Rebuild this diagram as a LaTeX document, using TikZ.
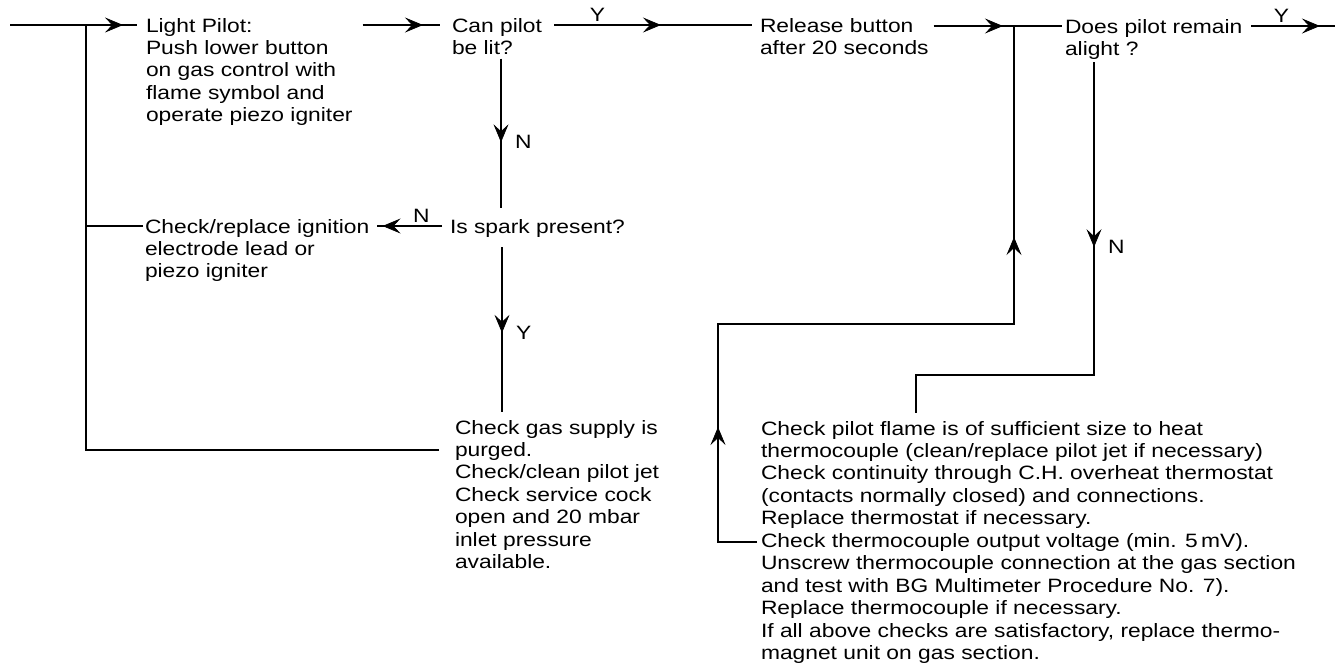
\documentclass[tikz,border=0pt]{standalone}
\usepackage{fontspec}
\setmainfont{Liberation Sans}[FakeStretch=1.18]
\usepackage{tikz}
\usetikzlibrary{arrows.meta, decorations.markings}

\begin{document}
\begin{tikzpicture}[
        x=0.02cm, y=-0.02cm,
        font=\fontsize{11}{12.8}\selectfont,
        % bloques de texto sin marco: se colocan por su esquina superior
        % izquierda; la primera línea queda centrada 7 unidades más abajo.
        bloque/.style={anchor=north west, align=left,
                       inner sep=0pt, outer sep=0pt},
        etiq/.style={inner sep=1.5pt},
        flujo/.style={draw, line width=1.2pt},
        fino/.style={draw, line width=0.7pt},
        % la punta va dentro de la línea, no en su extremo
        conpunta/.style={decoration={markings,
                         mark=at position #1 with {\arrow[line width=0.4pt]{Stealth[length=3.6mm, width=3mm, inset=1.4mm]}}},
                         postaction={decorate}},
        dospuntas/.style 2 args={decoration={markings,
                         mark=at position #1 with {\arrow[line width=0.4pt]{Stealth[length=3.6mm, width=3mm, inset=1.4mm]}},
                         mark=at position #2 with {\arrow[line width=0.4pt]{Stealth[length=3.6mm, width=3mm, inset=1.4mm]}}},
                         postaction={decorate}}
    ]
        \useasboundingbox (0,0) rectangle (1335,667);

        \node[bloque] (lp) at (146,18)  {Light Pilot:\\Push lower button\\on gas control with\\flame symbol and\\operate piezo igniter};
        \node[bloque] (cp) at (452,18)  {Can pilot\\be lit?};
        \node[bloque] (rb) at (760,18)  {Release button\\after 20 seconds};
        \node[bloque] (dp) at (1065,19) {Does pilot remain\\alight ?};
        \node[bloque] (cr) at (145,219) {Check/replace ignition\\electrode lead or\\piezo igniter};
        \node[bloque] (sp) at (450,219) {Is spark present?};
        \node[bloque] (cg) at (455,420) {Check gas supply is\\purged.\\Check/clean pilot jet\\Check service cock\\open and 20 mbar\\inlet pressure\\available.};
        \node[bloque] (cf) at (761,421) {Check pilot flame is of sufficient size to heat\\thermocouple (clean/replace pilot jet if necessary)\\Check continuity through C.H. overheat thermostat\\(contacts normally closed) and connections.\\Replace thermostat if necessary.\\Check thermocouple output voltage (min. 5\,mV).\\Unscrew thermocouple connection at the gas section\\and test with BG Multimeter Procedure No. 7).\\Replace thermocouple if necessary.\\If all above checks are satisfactory, replace thermo-\\magnet unit on gas section.};

        \coordinate (in)  at (10,25);
        \coordinate (out) at (1335,26);
        \coordinate (lb)  at (86,25);
        \coordinate (rj)  at (1014,26);
        \coordinate (b1)  at (718,324);
        \coordinate (b2)  at (1094,375);
        \coordinate (crin)  at ([shift={(-2,7)}]cr.north west);
        \coordinate (cfin)  at ([shift={(-4,121)}]cf.north west);
        \coordinate (dpout) at ([shift={(29,43)}]dp.north west);

        % fila superior
        \draw[flujo, conpunta=0.89] (in) -- ([shift={(-9,7)}]lp.north west);
        \draw[flujo, conpunta=0.78] ([shift={(10,7)}]lp.north east) -- ([shift={(-12,7)}]cp.north west);
        \draw[flujo, conpunta=0.54] ([shift={(12,7)}]cp.north east) -- node[etiq, above, pos=0.22] {Y} ([shift={(-8,7)}]rb.north west);
        \draw[flujo, conpunta=0.54] ([shift={(5,8)}]rb.north east) -- ([shift={(-3,7)}]dp.north west);
        \draw[flujo, conpunta=0.82] ([shift={(9,7)}]dp.north east) -- node[etiq, above, pos=0.36] {Y} (out);

        % rama de la chispa
        \draw[flujo, conpunta=0.56] ([shift={(49,4)}]cp.south west) -- node[etiq, right=6pt, pos=0.56] {N} ([shift={(51,-11)}]sp.north west);
        \draw[flujo, conpunta=0.92] ([shift={(-8,7)}]sp.north west) -- node[etiq, above, pos=0.32] {N} ([shift={(8,7)}]cr.north east);
        \draw[flujo, conpunta=0.52] ([shift={(52,10)}]sp.south west) -- node[etiq, right=6pt, pos=0.52] {Y} ([shift={(47,-8)}]cg.north west);

        % retornos a la izquierda
        \draw[fino] (crin) -- (crin -| lb);
        \draw[fino] ([shift={(-16,30)}]cg.north west) -| (lb);

        % retornos a la derecha
        \draw[fino, dospuntas={0.181}{0.752}] (cfin) -| (b1) -| (rj);
        \draw[flujo, conpunta=0.35] (dpout) -- node[etiq, right=6pt, pos=0.59] {N} (b2) -| ([shift={(155,-8)}]cf.north west);
    \end{tikzpicture}
\end{document}
